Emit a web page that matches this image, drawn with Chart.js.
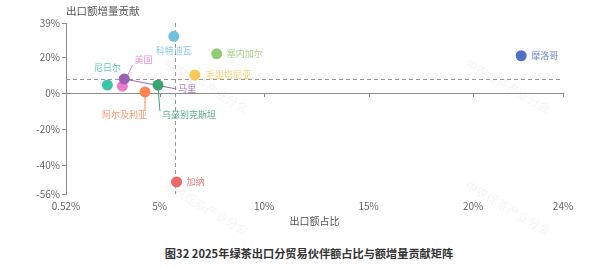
<!DOCTYPE html>
<html>
<head>
<meta charset="utf-8">
<script src="https://cdn.jsdelivr.net/npm/chart.js@4.4.0/dist/chart.umd.min.js"></script>
<style>
    body { margin: 0; background: #fff; font-family: 'Noto Sans CJK SC', sans-serif; }
    #wrap { position: relative; width: 600px; height: 267px; }
    #wrap canvas { position: absolute; left: 0; top: 0; }
    #caption { position: absolute; left: 18px; top: 245px; width: 582px; text-align: center;
        font-size: 11.2px; font-weight: bold; color: #333; }
</style>
</head>
<body>
<div id="wrap">
    <canvas id="matrixChart" width="600" height="235"></canvas>
    <div id="caption">图32 2025年绿茶出口分贸易伙伴额占比与额增量贡献矩阵</div>
</div>
<script>
const countries = ['科特迪瓦', '塞内加尔', '毛里塔尼亚', '尼日尔', '美国', '马里', '阿尔及利亚', '乌兹别克斯坦', '摩洛哥', '加纳'];
const exportShare = [5.68, 7.73, 6.69, 2.50, 3.22, 3.31, 4.30, 4.92, 22.3, 5.81];
const growthContribution = [31.6, 21.9, 10.1, 4.5, 3.9, 7.9, 0.7, 4.5, 20.8, -49.3];
const xTicks = [0.52, 5, 10, 15, 20, 24.3];
const yTicks = [-56, -40, -20, 0, 20, 39];
const avgShare = 5.72;
const avgContribution = 7.9;

const colors = ['#73c0de', '#91cc75', '#fac858', '#3cc3a7', '#ea7ccc', '#9a60b4', '#fc8452', '#3ba272', '#5470c6', '#ee6666'];

// label placement per point: dx/dy offset from point, align, optional leader line end
const labelPos = {
    '科特迪瓦': { dx: 0, dy: 14, align: 'center' },
    '塞内加尔': { dx: 10, dy: 0, align: 'left' },
    '毛里塔尼亚': { dx: 11, dy: 0, align: 'left' },
    '尼日尔': { dx: 0, dy: -18, align: 'center' },
    '美国': { dx: 12, dy: -27, align: 'left', line: [10, -21] },
    '马里': { dx: 54, dy: 10, align: 'left', line: [52, 10] },
    '阿尔及利亚': { dx: 2, dy: 23, align: 'right', line: [0, 18] },
    '乌兹别克斯坦': { dx: 4, dy: 29, align: 'left', line: [2, 26] },
    '摩洛哥': { dx: 10, dy: 0, align: 'left' },
    '加纳': { dx: 10, dy: 0, align: 'left' }
};

const FONT = "'Noto Sans CJK SC', sans-serif";

const decorPlugin = {
    id: 'decor',
    beforeDatasetsDraw(chart) {
        const { ctx, chartArea, scales } = chart;
        const x = scales.x, y = scales.y;
        ctx.save();

        // watermark
        ctx.fillStyle = 'rgba(0,0,0,0.05)';
        ctx.font = '12px ' + FONT;
        ctx.textAlign = 'center';
        ctx.textBaseline = 'middle';
        [[206, 86], [508, 86], [206, 208], [508, 208]].forEach(p => {
            ctx.save();
            ctx.translate(p[0], p[1]);
            ctx.rotate(Math.PI / 6);
            ctx.fillText('中农促茶产业分会', 0, 0);
            ctx.restore();
        });

        // zero line with ticks
        const y0 = y.getPixelForValue(0);
        ctx.strokeStyle = '#8c8c8c';
        ctx.lineWidth = 1;
        ctx.beginPath();
        ctx.moveTo(chartArea.left, Math.round(y0) + 0.5);
        ctx.lineTo(chartArea.right, Math.round(y0) + 0.5);
        xTicks.forEach(v => {
            const px = Math.round(x.getPixelForValue(v)) + 0.5;
            ctx.moveTo(px, Math.round(y0));
            ctx.lineTo(px, Math.round(y0) + 4);
        });
        ctx.stroke();

        // average lines
        ctx.strokeStyle = '#999';
        ctx.setLineDash([4, 3]);
        ctx.beginPath();
        const ax = Math.round(x.getPixelForValue(avgShare)) + 0.5;
        ctx.moveTo(ax, chartArea.top);
        ctx.lineTo(ax, chartArea.bottom);
        const ay = Math.round(y.getPixelForValue(avgContribution)) + 0.5;
        ctx.moveTo(chartArea.left, ay);
        ctx.lineTo(chartArea.right, ay);
        ctx.stroke();
        ctx.setLineDash([]);

        // leader lines
        countries.forEach((name, i) => {
            const lp = labelPos[name];
            if (!lp.line) return;
            const px = x.getPixelForValue(exportShare[i]);
            const py = y.getPixelForValue(growthContribution[i]);
            ctx.strokeStyle = colors[i];
            ctx.beginPath();
            ctx.moveTo(px, py);
            ctx.lineTo(px + lp.line[0], py + lp.line[1]);
            ctx.stroke();
        });

        // y axis name
        ctx.fillStyle = '#555';
        ctx.font = '10.5px ' + FONT;
        ctx.textAlign = 'left';
        ctx.fillText('出口额增量贡献', chartArea.left, 11);
        ctx.restore();
    },
    afterDatasetsDraw(chart) {
        const { ctx, scales } = chart;
        ctx.save();
        ctx.font = '9px ' + FONT;
        ctx.textBaseline = 'middle';
        countries.forEach((name, i) => {
            const lp = labelPos[name];
            const px = scales.x.getPixelForValue(exportShare[i]);
            const py = scales.y.getPixelForValue(growthContribution[i]);
            ctx.globalAlpha = 0.85;
            ctx.fillStyle = colors[i];
            ctx.textAlign = lp.align;
            ctx.fillText(name, px + lp.dx, py + lp.dy);
        });
        ctx.restore();
    }
};

new Chart(document.getElementById('matrixChart'), {
    type: 'scatter',
    data: {
        datasets: [{
            data: countries.map((c, i) => ({ x: exportShare[i], y: growthContribution[i] })),
            backgroundColor: colors,
            borderWidth: 0,
            pointRadius: 5.5,
            clip: false
        }]
    },
    options: {
        responsive: false,
        animation: false,
        events: [],
        layout: { padding: { left: 0, top: 23, right: 37, bottom: 0 } },
        plugins: { legend: { display: false }, tooltip: { enabled: false } },
        scales: {
            x: {
                type: 'linear',
                min: 0.52,
                max: 24.3,
                afterBuildTicks: s => { s.ticks = xTicks.map(v => ({ value: v })); },
                afterFit: s => { s.height = 41; },
                border: { display: false },
                grid: { display: false, drawTicks: false },
                ticks: {
                    padding: 6,
                    color: '#666',
                    font: { family: FONT, size: 10 },
                    maxRotation: 0,
                    callback: v => (v === 0.52 ? '0.52' : Math.round(v)) + '%'
                },
                title: {
                    display: true,
                    text: '出口额占比',
                    color: '#555',
                    font: { family: FONT, size: 10 },
                    padding: { top: 0, bottom: 8 }
                }
            },
            y: {
                type: 'linear',
                min: -56,
                max: 39,
                afterBuildTicks: s => { s.ticks = yTicks.map(v => ({ value: v })); },
                afterFit: s => { s.width = 66; },
                border: { display: true, color: '#8c8c8c' },
                grid: { drawOnChartArea: false, tickLength: 4, color: '#8c8c8c' },
                ticks: {
                    padding: 2,
                    color: '#666',
                    font: { family: FONT, size: 10 },
                    callback: v => v + '%'
                }
            }
        }
    },
    plugins: [decorPlugin]
});
</script>
</body>
</html>
